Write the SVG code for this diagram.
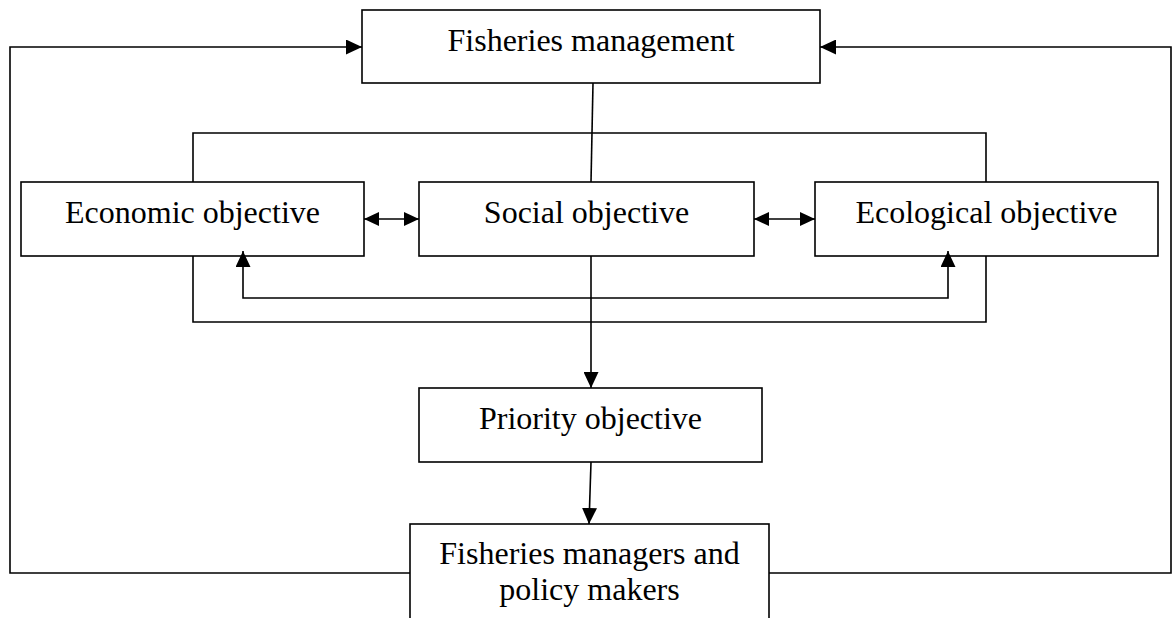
<svg xmlns="http://www.w3.org/2000/svg" width="1174" height="618" viewBox="0 0 1174 618">
<style>
.box{fill:#fff;stroke:#000;stroke-width:1.6}
.lbl{font-family:"Liberation Serif","Times New Roman",serif;font-size:32px;fill:#000;text-anchor:middle}
.ln{fill:none;stroke:#000;stroke-width:1.6}
</style>
<defs>
<marker id="ah" markerUnits="userSpaceOnUse" markerWidth="16" markerHeight="15" refX="16" refY="7.5" orient="auto-start-reverse"><path d="M0,0 L16,7.5 L0,15 z" fill="#000"/></marker>
<marker id="ahs" markerUnits="userSpaceOnUse" markerWidth="15" markerHeight="14" refX="15" refY="7" orient="auto-start-reverse"><path d="M0,0 L15,7 L0,14 z" fill="#000"/></marker>
</defs>
<rect width="1174" height="618" fill="#fff"/>
<g id="fisheries-management"><rect class="box" x="362" y="10" width="458" height="73"/><text class="lbl" x="591" y="51">Fisheries management</text></g>
<g id="economic-objective"><rect class="box" x="21" y="182" width="343" height="74"/><text class="lbl" x="192.5" y="223">Economic objective</text></g>
<g id="social-objective"><rect class="box" x="419" y="182" width="335" height="74"/><text class="lbl" x="586.5" y="223">Social objective</text></g>
<g id="ecological-objective"><rect class="box" x="815" y="182" width="343" height="74"/><text class="lbl" x="986.5" y="223">Ecological objective</text></g>
<g id="priority-objective"><rect class="box" x="419" y="388" width="343" height="74"/><text class="lbl" x="590.5" y="429">Priority objective</text></g>
<g id="managers"><rect class="box" x="410" y="524" width="359" height="110"/><text class="lbl" x="589.5" y="564">Fisheries managers and</text><text class="lbl" x="589.5" y="600">policy makers</text></g>
<g id="connectors">
<path class="ln" d="M410,573 L10,573 L10,47 L362,47" marker-end="url(#ah)"/>
<path class="ln" d="M769,573 L1171,573 L1171,47 L820,47" marker-end="url(#ah)"/>
<path class="ln" d="M593,83 L591,182"/>
<path class="ln" d="M193,182 L193,133 L986,133 L986,182"/>
<path class="ln" d="M193,256 L193,322 L986,322 L986,256"/>
<path class="ln" d="M243,251 L243,298 L948,298 L948,251" marker-start="url(#ah)" marker-end="url(#ah)"/>
<path class="ln" d="M591,256 L591,388" marker-end="url(#ah)"/>
<path class="ln" d="M591,462 L589,524" marker-end="url(#ah)"/>
<path class="ln" d="M364,219 L419,219" marker-start="url(#ahs)" marker-end="url(#ahs)"/>
<path class="ln" d="M754,219 L815,219" marker-start="url(#ahs)" marker-end="url(#ahs)"/>
</g>
</svg>
